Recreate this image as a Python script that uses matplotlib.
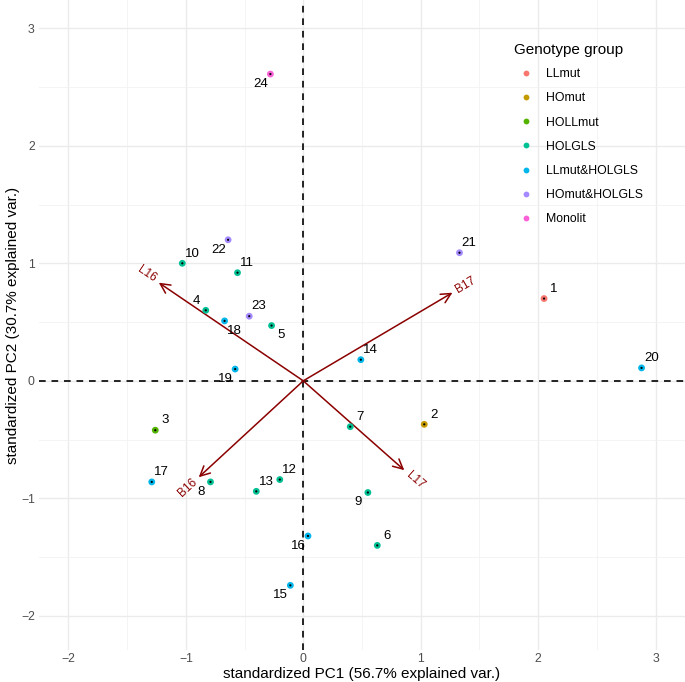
import numpy as np
import matplotlib
matplotlib.use("Agg")
import matplotlib.pyplot as plt
from matplotlib.lines import Line2D

plt.rcParams['font.family'] = ['Liberation Sans', 'DejaVu Sans']

# sample scores (standardized PC1 / PC2) and genotype group of each sample
sample_ids = [str(i) for i in range(1, 25)]
pc1 = [2.05, 1.03, -1.26, -0.83, -0.27, 0.63, 0.40, -0.79, 0.55, -1.03, -0.56, -0.20,
       -0.40, 0.49, -0.11, 0.04, -1.29, -0.67, -0.58, 2.88, 1.33, -0.64, -0.46, -0.28]
pc2 = [0.70, -0.37, -0.42, 0.60, 0.47, -1.40, -0.39, -0.86, -0.95, 1.00, 0.92, -0.84,
       -0.94, 0.18, -1.74, -1.32, -0.86, 0.51, 0.10, 0.11, 1.09, 1.20, 0.55, 2.61]
groups = ['LLmut', 'HOmut', 'HOLLmut', 'HOLGLS', 'HOLGLS', 'HOLGLS', 'HOLGLS', 'HOLGLS',
          'HOLGLS', 'HOLGLS', 'HOLGLS', 'HOLGLS', 'HOLGLS', 'LLmut&HOLGLS', 'LLmut&HOLGLS',
          'LLmut&HOLGLS', 'LLmut&HOLGLS', 'LLmut&HOLGLS', 'LLmut&HOLGLS', 'LLmut&HOLGLS',
          'HOmut&HOLGLS', 'HOmut&HOLGLS', 'HOmut&HOLGLS', 'Monolit']
group_order = ['LLmut', 'HOmut', 'HOLLmut', 'HOLGLS', 'LLmut&HOLGLS', 'HOmut&HOLGLS', 'Monolit']

# variable loadings (arrows)
var_names = ['L16', 'B17', 'B16', 'L17']
var_x = [-1.23, 1.27, -0.89, 0.86]
var_y = [0.835, 0.75, -0.82, -0.76]

pc1_var = 56.7
pc2_var = 30.7

# styling
palette = ['#F8766D', '#C49A00', '#53B400', '#00C094', '#00B6EB', '#A58AFF', '#FB61D7']
colors = dict(zip(group_order, palette))
# label placement around each point: UR, UL, DR, DL
label_dir = ['UR', 'UR', 'UR', 'UL', 'DR', 'UR', 'UR', 'DL', 'DL', 'UR', 'UR', 'UR',
             'UR', 'UR', 'DL', 'DL', 'UR', 'DR', 'DL', 'UR', 'UR', 'DL', 'UR', 'DL']
dir_off = {'UR': (7, 7), 'UL': (-7, 7), 'DR': (7, -7), 'DL': (-7, -7)}

fig = plt.figure(figsize=(6.85, 6.82), dpi=100)
ax = fig.add_axes([39 / 685, 32 / 682, 646 / 685, 650 / 682])

# grid like theme_minimal
ax.set_xticks(np.arange(-2, 4, 1))
ax.set_yticks(np.arange(-2, 4, 1))
ax.set_xticks(np.arange(-2, 3.5, 0.5), minor=True)
ax.set_yticks(np.arange(-2, 3.5, 0.5), minor=True)
ax.set_xlim(-2.25, 3.25)
ax.set_ylim(-2.29, 3.24)
ax.grid(which='major', color='#EBEBEB', lw=1.0, zorder=0)
ax.grid(which='minor', color='#F2F2F2', lw=0.6, zorder=0)
ax.tick_params(which='both', length=0, labelsize=8.8, labelcolor='#4D4D4D')
ax.tick_params(axis='y', pad=3)
ax.tick_params(axis='x', pad=2.5)
for s in ax.spines.values():
    s.set_visible(False)
ax.set_axisbelow(True)

# reference lines
ax.axhline(0, color='black', lw=1.2, ls=(0, (4, 3.5)), zorder=1)
ax.axvline(0, color='black', lw=1.2, ls=(0, (4, 3.5)), zorder=1)

# loading arrows
for name, vx, vy in zip(var_names, var_x, var_y):
    ax.annotate('', xy=(vx, vy), xytext=(0, 0),
                arrowprops=dict(arrowstyle='->,head_length=0.7,head_width=0.35',
                                color='#8B0000', lw=1.1, shrinkA=0, shrinkB=0),
                zorder=2)
    ang = np.degrees(np.arctan(vy / vx))
    norm = np.hypot(vx, vy)
    off = (3.6 * vx / norm, 3.6 * vy / norm)
    ax.annotate(name, xy=(vx, vy), xytext=off, textcoords='offset points',
                rotation=ang, rotation_mode='anchor',
                ha='right' if vx < 0 else 'left', va='center',
                color='#8B0000', fontsize=8.5, zorder=4)

# points
pc1_arr = np.array(pc1)
pc2_arr = np.array(pc2)
grp_arr = np.array(groups)
handles = []
for g in group_order:
    m = grp_arr == g
    ax.scatter(pc1_arr[m], pc2_arr[m], s=24, color=colors[g], edgecolors='none', zorder=3)
    handles.append(Line2D([], [], ls='none', marker='o', markersize=4.2,
                          markerfacecolor=colors[g], markeredgecolor='none', label=g))
ax.scatter(pc1_arr, pc2_arr, s=2.5, color='black', edgecolors='none', zorder=3.5)

for sid, x, y, d in zip(sample_ids, pc1, pc2, label_dir):
    ox, oy = dir_off[d]
    ax.annotate(sid, xy=(x, y), xytext=(ox, oy), textcoords='offset points',
                ha='center', va='center', fontsize=9.5, color='black', zorder=4)

ax.set_xlabel('standardized PC1 (%.1f%% explained var.)' % pc1_var, fontsize=11, labelpad=1)
ax.set_ylabel('standardized PC2 (%.1f%% explained var.)' % pc2_var, fontsize=11, labelpad=1)

leg = ax.legend(handles=handles, title='Genotype group', loc='upper left',
                bbox_to_anchor=(514 / 685, 1 - 43 / 682), bbox_transform=fig.transFigure,
                frameon=False, fontsize=8.8, title_fontsize=11, alignment='left',
                borderpad=0, borderaxespad=0, handlelength=2.0, handletextpad=0.6,
                labelspacing=1.0)
leg._legend_box.sep = 8

fig.savefig('out.png', dpi=100)
